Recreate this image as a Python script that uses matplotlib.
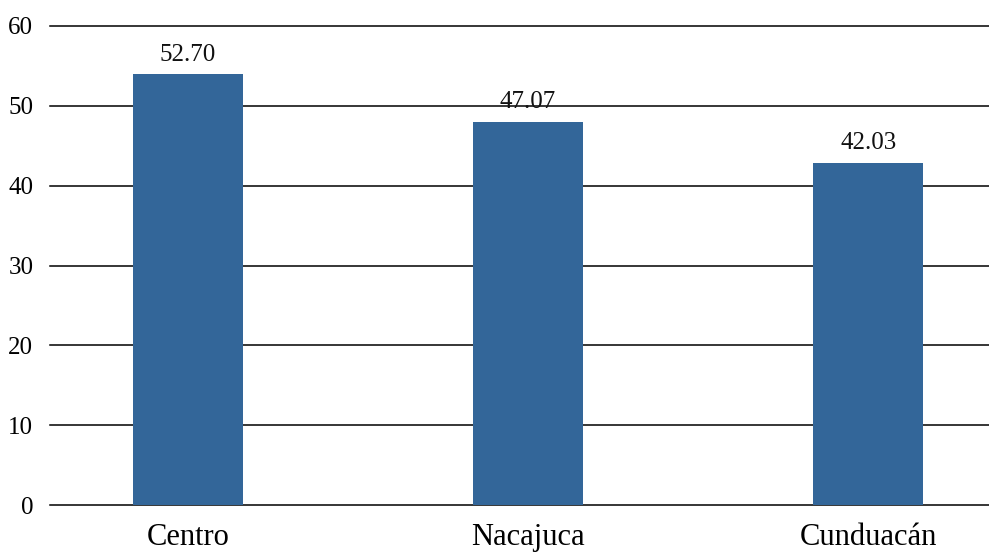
import matplotlib
matplotlib.use("Agg")
import matplotlib.pyplot as plt

# données
municipios = ["Centro", "Nacajuca", "Cunduacán"]
alturas = [54.0, 48.0, 42.9]
etiquetas = ["52.70", "47.07", "42.03"]
yticks = [0, 10, 20, 30, 40, 50, 60]

plt.rcParams['font.family'] = ['Liberation Serif', 'DejaVu Serif']

fig = plt.figure(figsize=(9.89, 5.54), dpi=100)
ax = fig.add_axes([50/989, 1 - 505/554, 1 - 50/989, (505 - 26)/554])

x = range(len(municipios))
barras = ax.bar(x, alturas, width=0.323, color="#336699", zorder=2)

for b, t in zip(barras, etiquetas):
    ax.annotate(t, (b.get_x() + b.get_width()/2, b.get_height()),
                xytext=(0, 6), textcoords="offset points",
                ha="center", va="bottom", fontsize=18, color="#111111")

ax.set_ylim(0, 60)
ax.set_xlim(-0.405, 2.355)
ax.set_yticks(yticks)
ax.set_xticks(list(x))
ax.set_xticklabels(municipios, fontsize=22)
ax.tick_params(axis="y", labelsize=18, length=0, pad=12)
ax.tick_params(axis="x", length=0, pad=13)
ax.grid(axis="y", color="black", linewidth=1.1, zorder=0)
for g in ax.yaxis.get_gridlines():
    g.set_clip_on(False)
ax.set_axisbelow(True)
for s in ax.spines.values():
    s.set_visible(False)

fig.savefig("out.png", dpi=100)
